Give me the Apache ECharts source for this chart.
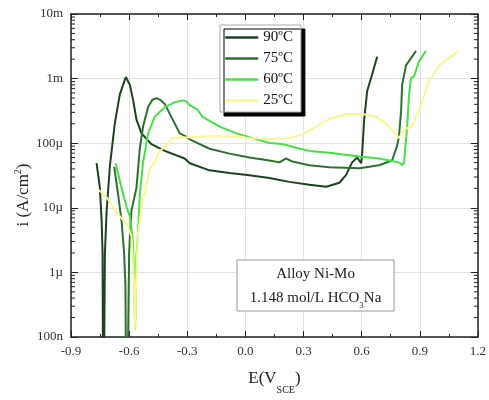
<!DOCTYPE html>
<html>
<head>
<meta charset="utf-8">
<script src="https://cdn.jsdelivr.net/npm/echarts@6/dist/echarts.min.js"></script>
<style>html,body{margin:0;padding:0;background:#fff}#c{width:489px;height:400px}</style>
</head>
<body>
<div id="c"></div>
<script>
// ---- data (E in V vs SCE, i in A/cm^2) ----
const seriesNames = ['90ºC', '75ºC', '60ºC', '25ºC'];
const seriesColors = ['#1d421f', '#2c722e', '#45e045', '#f9f794'];

const e90 = [-0.768,-0.751,-0.742,-0.737,-0.733,-0.725,-0.716,-0.699,-0.674,-0.648,-0.617,-0.596,-0.579,-0.562,-0.536,-0.485,-0.416,-0.313,-0.287,-0.185,-0.082,0.021,0.124,0.227,0.330,0.418,0.485,0.519,0.551,0.577,0.598,0.603,0.613,0.629,0.649,0.680];
const i90 = [4.9e-5,2.05e-5,6.3e-6,2.0e-6,1e-9,2.0e-6,8.95e-6,4.55e-5,2.01e-4,5.7e-4,1.06e-3,8.0e-4,4.6e-4,2.31e-4,1.42e-4,9.7e-5,7.6e-5,5.8e-5,4.9e-5,3.8e-5,3.45e-5,3.2e-5,2.9e-5,2.52e-5,2.28e-5,2.12e-5,2.44e-5,3.2e-5,5.05e-5,6.0e-5,4.9e-5,7.1e-5,2.31e-4,6.5e-4,1.02e-3,2.18e-3];

const e75 = [-0.677,-0.657,-0.639,-0.626,-0.619,-0.613,-0.600,-0.596,-0.588,-0.562,-0.545,-0.528,-0.502,-0.480,-0.459,-0.440,-0.416,-0.390,-0.365,-0.339,-0.313,-0.287,-0.185,-0.082,0.021,0.124,0.176,0.210,0.243,0.330,0.433,0.588,0.690,0.757,0.783,0.793,0.804,0.809,0.829,0.881];
const i75 = [4.3e-5,1.61e-5,6.3e-6,2.0e-6,6.5e-7,1e-9,2.0e-6,3.65e-6,8.95e-6,2.05e-5,8.2e-5,1.81e-4,3.62e-4,4.7e-4,5.0e-4,4.7e-4,4.06e-4,2.84e-4,2.03e-4,1.42e-4,1.3e-4,1.15e-4,8.2e-5,6.9e-5,6.0e-5,5.4e-5,5.05e-5,5.8e-5,5.2e-5,4.55e-5,4.25e-5,4.1e-5,4.55e-5,5.4e-5,9.1e-5,1.28e-4,3.27e-4,8.0e-4,1.6e-3,2.69e-3];

const e60 = [-0.670,-0.639,-0.613,-0.596,-0.581,-0.574,-0.569,-0.563,-0.555,-0.545,-0.528,-0.502,-0.468,-0.416,-0.365,-0.324,-0.304,-0.287,-0.246,-0.221,-0.133,-0.046,0.037,0.124,0.191,0.263,0.330,0.433,0.588,0.690,0.793,0.809,0.819,0.835,0.845,0.855,0.871,0.896,0.932];
const i60 = [4.9e-5,2.05e-5,1.03e-5,7.3e-6,3.18e-6,6.5e-7,1.3e-7,1.7e-6,3.65e-6,1.61e-5,5.05e-5,1.42e-4,2.56e-4,3.62e-4,4.3e-4,4.6e-4,4.4e-4,3.88e-4,3.27e-4,2.56e-4,1.81e-4,1.42e-4,1.2e-4,1.01e-4,9.7e-5,8.5e-5,7.6e-5,7.1e-5,6.2e-5,5.8e-5,5.05e-5,4.55e-5,5.05e-5,1.81e-4,5.7e-4,1.02e-3,1.09e-3,1.84e-3,2.69e-3];

const e25 = [-0.758,-0.716,-0.658,-0.607,-0.588,-0.574,-0.571,-0.562,-0.555,-0.536,-0.510,-0.493,-0.468,-0.442,-0.416,-0.375,-0.287,-0.185,-0.082,0.021,0.124,0.227,0.294,0.366,0.433,0.521,0.603,0.675,0.726,0.778,0.793,0.819,0.860,0.896,0.948,0.999,1.102];
const i25 = [1.9e-5,1.45e-5,8.07e-6,5.3e-6,3.65e-6,6.5e-7,1.3e-7,1.12e-6,3.65e-6,1.03e-5,2.28e-5,4.1e-5,5.05e-5,7.5e-5,8.8e-5,1.2e-4,1.24e-4,1.28e-4,1.28e-4,1.2e-4,1.16e-4,1.2e-4,1.37e-4,1.81e-4,2.39e-4,2.84e-4,2.84e-4,2.56e-4,2.01e-4,1.37e-4,1.2e-4,1.63e-4,1.81e-4,3.27e-4,9.2e-4,1.6e-3,2.69e-3];

const yTickLabels = {'-7':'100n','-6':'1µ','-5':'10µ','-4':'100µ','-3':'1m','-2':'10m'};
const xMin = -0.9, xMax = 1.2, xStep = 0.3;
const yMin = 1e-7, yMax = 1e-2;

// minor tick values of the log axis (2..9 per decade)
const minorVals = [];
for (let d = -7; d < -2; d++) for (let k = 2; k <= 9; k++) minorVals.push(k * Math.pow(10, d));

const zip = (a, b) => a.map((v, j) => [v, b[j]]);
const allE = [e90, e75, e60, e25], allI = [i90, i75, i60, i25];

const serif = '"Liberation Serif", "Times New Roman", serif';
const chart = echarts.init(document.getElementById('c'), null, {renderer: 'canvas'});

const lineSeries = seriesNames.map((n, k) => ({
  name: n, type: 'line', data: zip(allE[k], allI[k]),
  xAxisIndex: 0, yAxisIndex: 0,
  symbol: 'none', showSymbol: false, clip: true,
  lineStyle: {color: seriesColors[k], width: 2},
  itemStyle: {color: seriesColors[k]},
  z: 3
}));

const minorSeries = {
  type: 'custom', silent: true, xAxisIndex: 0, yAxisIndex: 0, clip: false, z: 4,
  data: minorVals.map(v => [xMin, v]),
  renderItem: function (params, api) {
    const v = api.value(1);
    const pl = api.coord([xMin, v]);
    const pr = api.coord([xMax, v]);
    const st = {stroke: '#222', lineWidth: 1};
    return {type: 'group', children: [
      {type: 'line', shape: {x1: pl[0], y1: pl[1], x2: pl[0] + 4, y2: pl[1]}, style: st},
      {type: 'line', shape: {x1: pr[0] - 4, y1: pr[1], x2: pr[0], y2: pr[1]}, style: st}
    ]};
  }
};

const axisLineStyle = {color: '#222', width: 1.5};
chart.setOption({
  animation: false,
  backgroundColor: '#fff',
  grid: {left: 71, top: 14, right: 10, bottom: 53, containLabel: false},
  legend: {
    data: seriesNames, orient: 'vertical', left: 220, top: 25,
    itemWidth: 33, itemHeight: 12, itemGap: 6,
    padding: [5, 8, 4, 4],
    backgroundColor: '#fff', borderColor: '#aaa', borderWidth: 1,
    shadowColor: '#000', shadowBlur: 0, shadowOffsetX: 4, shadowOffsetY: 4,
    textStyle: {fontFamily: serif, fontSize: 15, color: '#111'},
    lineStyle: {width: 2.5},
    itemStyle: {opacity: 0}
  },
  xAxis: [{
    type: 'value', min: xMin, max: xMax, interval: xStep, position: 'bottom',
    axisLine: {onZero: false, lineStyle: axisLineStyle},
    axisTick: {inside: true, length: 6, lineStyle: {color: '#222'}},
    minorTick: {show: true, splitNumber: 2, length: 3, lineStyle: {color: '#222'}},
    splitLine: {show: true, lineStyle: {color: '#e3e3e3', width: 1}},
    axisLabel: {fontFamily: serif, fontSize: 13, color: '#333', margin: 8, formatter: v => v.toFixed(1)},
    name: '{m|E(V}{s|SCE}{m|)}', nameLocation: 'middle', nameGap: 28,
    nameTextStyle: {rich: {m: {fontFamily: serif, fontSize: 17, color: '#222', lineHeight: 22, verticalAlign: 'bottom'},
                           s: {fontFamily: serif, fontSize: 10, color: '#222', lineHeight: 22, verticalAlign: 'bottom', padding: [0, 0, -8, 0]}}}
  }, {
    type: 'value', min: xMin, max: xMax, interval: xStep, position: 'top',
    axisLine: {onZero: false, lineStyle: axisLineStyle},
    axisTick: {inside: true, length: 6, lineStyle: {color: '#222'}},
    minorTick: {show: true, splitNumber: 2, length: 3, lineStyle: {color: '#222'}},
    splitLine: {show: false}, axisLabel: {show: false}
  }],
  yAxis: [{
    type: 'log', logBase: 10, min: yMin, max: yMax, position: 'left',
    axisLine: {onZero: false, lineStyle: axisLineStyle},
    axisTick: {inside: true, length: 7, lineStyle: {color: '#222'}},
    splitLine: {show: true, lineStyle: {color: '#e3e3e3', width: 1}},
    axisLabel: {fontFamily: serif, fontSize: 13, color: '#333', margin: 8,
      formatter: v => yTickLabels[String(Math.round(Math.log10(v)))] || ''}
  }, {
    type: 'log', logBase: 10, min: yMin, max: yMax, position: 'right',
    axisLine: {onZero: false, lineStyle: axisLineStyle},
    axisTick: {inside: true, length: 7, lineStyle: {color: '#222'}},
    splitLine: {show: false}, axisLabel: {show: false}
  }],
  graphic: [
    {type: 'text', x: 21, y: 195, rotation: Math.PI / 2,
     style: {text: '{m|i (A/cm}{p|2}{m|)}', align: 'center', verticalAlign: 'middle',
       rich: {m: {fontFamily: serif, fontSize: 17, fill: '#222', lineHeight: 22, verticalAlign: 'bottom'},
              p: {fontFamily: serif, fontSize: 10, fill: '#222', lineHeight: 22, verticalAlign: 'bottom', padding: [0, 0, 9, 0]}}}},
    {type: 'rect', shape: {x: 237, y: 260, width: 157, height: 51},
     style: {fill: '#fff', stroke: '#999', lineWidth: 1}, z: 10},
    {type: 'text', x: 315.5, y: 274, z: 11,
     style: {text: 'Alloy Ni-Mo', align: 'center', verticalAlign: 'middle', fontFamily: serif, fontSize: 15, fill: '#222'}},
    {type: 'text', x: 315.5, y: 296, z: 11,
     style: {text: '{m|1.148 mol/L HCO}{s|3}{m|Na}', align: 'center', verticalAlign: 'middle',
       rich: {m: {fontFamily: serif, fontSize: 15, fill: '#222', lineHeight: 20, verticalAlign: 'bottom'},
              s: {fontFamily: serif, fontSize: 9, fill: '#222', lineHeight: 20, verticalAlign: 'bottom', padding: [0, 0, -4, 0]}}}}
  ],
  series: lineSeries.concat([minorSeries])
});
</script>
</body>
</html>
